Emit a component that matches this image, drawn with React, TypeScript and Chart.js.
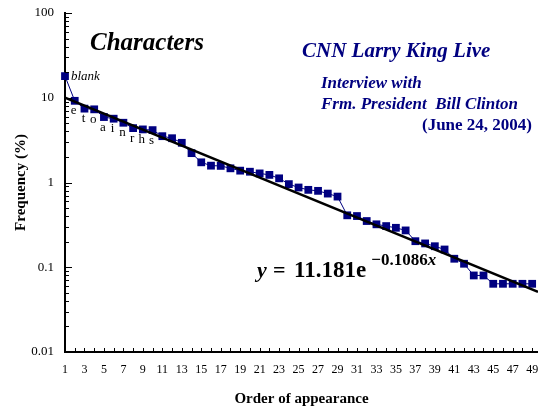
import React, { useEffect, useRef } from 'react';
import { Chart, registerables } from 'chart.js';

Chart.register(...registerables);

// ---- data ----
const orders: number[] = Array.from({ length: 49 }, (_, i) => i + 1);
const frequencies: number[] = [
  18.0, 9.2, 7.44, 7.3, 5.92, 5.66, 5.07, 4.38, 4.23, 4.15,
  3.52, 3.33, 2.94, 2.22, 1.73, 1.58, 1.57, 1.47, 1.38, 1.34,
  1.28, 1.23, 1.12, 0.957, 0.873, 0.819, 0.797, 0.74, 0.682, 0.41,
  0.402, 0.351, 0.321, 0.306, 0.292, 0.272, 0.203, 0.191, 0.177, 0.162,
  0.126, 0.11, 0.08, 0.08, 0.0638, 0.0638, 0.0638, 0.0638, 0.0638,
];
const charLabels: string[] = ['blank', 'e', 't', 'o', 'a', 'i', 'n', 'r', 'h', 's'];
const xTickValues: number[] = [1, 3, 5, 7, 9, 11, 13, 15, 17, 19, 21, 23, 25, 27, 29, 31, 33, 35, 37, 39, 41, 43, 45, 47, 49];
const yTickValues: number[] = [0.01, 0.1, 1, 10, 100];
const yTickLabels: string[] = ['0.01', '0.1', '1', '10', '100'];
const fitA = 11.181;
const fitB = -0.1086;
const xMin = 1;
const xMax = 49.6;

const SERIF = '"Liberation Serif", "Times New Roman", serif';
const NAVY = '#000080';

const f = (style: string, weight: string, size: number) => `${style} ${weight} ${size}px ${SERIF}`;

const decorPlugin = {
  id: 'decor',
  afterDatasetsDraw(chart: any) {
    const ctx = chart.ctx as CanvasRenderingContext2D;
    const xs = chart.scales.x;
    const ys = chart.scales.y;
    const area = chart.chartArea;
    ctx.save();
    // inward tick marks
    ctx.strokeStyle = '#000';
    ctx.lineWidth = 1;
    ctx.beginPath();
    for (let n = -2; n <= 2; n++) {
      for (let m = 1; m <= 9; m++) {
        const v = m * Math.pow(10, n);
        if (v > 100.0001) continue;
        const py = Math.round(ys.getPixelForValue(v)) + 0.5;
        const len = m === 1 ? 7 : 4;
        ctx.moveTo(area.left, py);
        ctx.lineTo(area.left + len, py);
      }
    }
    for (let i = 1; i <= 49; i++) {
      const px = Math.round(xs.getPixelForValue(i)) + 0.5;
      ctx.moveTo(px, area.bottom);
      ctx.lineTo(px, area.bottom - 4);
    }
    ctx.stroke();

    // point labels
    ctx.fillStyle = '#000';
    charLabels.forEach((lab, i) => {
      const px = xs.getPixelForValue(orders[i]);
      const py = ys.getPixelForValue(frequencies[i]);
      if (i === 0) {
        ctx.font = f('italic', 'normal', 13);
        ctx.textAlign = 'left';
        ctx.textBaseline = 'middle';
        ctx.fillText(lab, px + 6, py);
      } else {
        ctx.font = f('normal', 'normal', 13);
        ctx.textAlign = 'center';
        ctx.textBaseline = 'alphabetic';
        ctx.fillText(lab, px - 1, py + 13.5);
      }
    });

    // titles
    ctx.textAlign = 'left';
    ctx.textBaseline = 'alphabetic';
    ctx.fillStyle = '#000';
    ctx.font = f('italic', 'bold', 25);
    ctx.fillText('Characters', 90, 50);

    ctx.fillStyle = NAVY;
    ctx.font = f('italic', 'bold', 21);
    ctx.fillText('CNN Larry King Live', 302, 57);
    ctx.font = f('italic', 'bold', 17);
    ctx.fillText('Interview with', 321, 88);
    ctx.fillText('Frm. President  Bill Clinton', 321, 109);
    ctx.font = f('normal', 'bold', 17);
    ctx.textAlign = 'right';
    ctx.fillText('(June 24, 2004)', 532, 130);

    // equation
    ctx.textAlign = 'left';
    ctx.fillStyle = '#000';
    ctx.font = f('italic', 'bold', 22);
    ctx.fillText('y', 257, 277);
    ctx.font = f('normal', 'bold', 22);
    ctx.fillText('=', 273, 277);
    ctx.font = f('normal', 'bold', 23);
    const main = '11.181e';
    ctx.fillText(main, 294, 277);
    const w = ctx.measureText(main).width;
    ctx.font = f('normal', 'bold', 17);
    const sup = '\u22120.1086';
    ctx.fillText(sup, 294 + w + 5, 265);
    const w2 = ctx.measureText(sup).width;
    ctx.font = f('italic', 'bold', 17);
    ctx.fillText('x', 294 + w + 5 + w2, 265);
    ctx.restore();
  },
};

const zeroPad = (s: any) => {
  s.paddingLeft = 0;
  s.paddingRight = 0;
  s.paddingTop = 0;
  s.paddingBottom = 0;
};

export default function App() {
  const ref = useRef<HTMLCanvasElement | null>(null);
  useEffect(() => {
    if (!ref.current) return;
    const trend = [xMin, xMax].map((x) => ({ x, y: fitA * Math.exp(fitB * x) }));
    const series = orders.map((x, i) => ({ x, y: frequencies[i] }));
    const chart = new Chart(ref.current, {
      type: 'scatter',
      data: {
        datasets: [
          {
            data: trend,
            showLine: true,
            borderColor: '#000',
            borderWidth: 2.5,
            pointRadius: 0,
            order: 0,
          },
          {
            data: series,
            showLine: true,
            clip: false,
            borderColor: NAVY,
            borderWidth: 1,
            backgroundColor: NAVY,
            pointBackgroundColor: NAVY,
            pointBorderColor: NAVY,
            pointBorderWidth: 0,
            pointStyle: 'rect',
            pointRadius: 5.5,
            order: 1,
          },
        ],
      },
      options: {
        animation: false,
        responsive: false,
        devicePixelRatio: 1,
        layout: { autoPadding: false, padding: { top: 13, right: 0, bottom: 0, left: 0 } },
        plugins: { legend: { display: false }, tooltip: { enabled: false } },
        scales: {
          x: {
            type: 'linear',
            min: xMin,
            max: xMax,
            afterBuildTicks: (s: any) => {
              s.ticks = xTickValues.map((v) => ({ value: v }));
            },
            afterFit: (s: any) => {
              s.height = 58;
              zeroPad(s);
            },
            ticks: {
              autoSkip: false,
              maxRotation: 0,
              padding: 11,
              color: '#000',
              font: { family: SERIF, size: 12 },
              callback: (v: any) => String(v),
            },
            grid: { display: false, drawTicks: false },
            border: { display: true, color: '#000', width: 2 },
            title: {
              display: true,
              text: 'Order of appearance',
              color: '#000',
              font: { family: SERIF, size: 15, weight: 'bold' },
              padding: { top: 0, bottom: 2 },
            },
          },
          y: {
            type: 'logarithmic',
            min: 0.01,
            max: 100,
            afterBuildTicks: (s: any) => {
              s.ticks = yTickValues.map((v) => ({ value: v, major: true }));
            },
            afterFit: (s: any) => {
              s.width = 65;
              zeroPad(s);
            },
            ticks: {
              padding: 11,
              color: '#000',
              font: { family: SERIF, size: 13 },
              callback: (_v: any, i: number) => yTickLabels[i],
            },
            grid: { display: false, drawTicks: false },
            border: { display: true, color: '#000', width: 2 },
            title: {
              display: true,
              text: 'Frequency (%)',
              color: '#000',
              font: { family: SERIF, size: 15, weight: 'bold' },
              padding: { top: 12, bottom: 0 },
            },
          },
        },
      },
      plugins: [decorPlugin],
    } as any);
    return () => chart.destroy();
  }, []);
  return (
    <div style={{ position: 'absolute', left: 0, top: 0, width: 538, height: 410, background: '#fff' }}>
      <canvas ref={ref} width={538} height={410} style={{ display: 'block' }} />
    </div>
  );
}
